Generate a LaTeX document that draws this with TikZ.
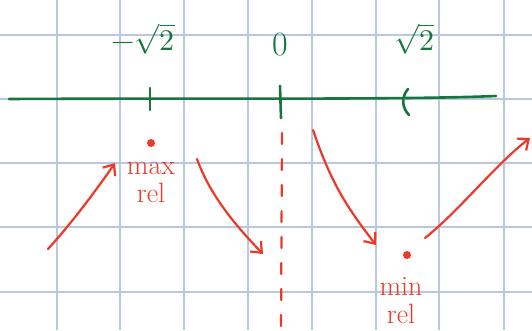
\documentclass[tikz,border=0pt]{standalone}
\usepackage{fontspec}
\usepackage{unicode-math}
\setmathfont{Latin Modern Math}
\usepackage{tikz}
\usetikzlibrary{arrows.meta}
\definecolor{gridc}{RGB}{185,200,222}
\definecolor{pgreen}{RGB}{22,118,62}
\definecolor{pred}{RGB}{236,58,40}
\tikzset{
  gridline/.style={draw=gridc,line width=1.3pt},
  axisline/.style={draw=pgreen,line width=2.6pt,line cap=round},
  redline/.style={draw=pred,line width=2.2pt,line cap=round,line join=round},
  redarrow/.style={redline,-{Straight Barb[length=9pt,width=15pt,line width=2.2pt]}},
  axislabel/.style={text=pgreen,font=\fontsize{30}{34}\selectfont,inner sep=0pt},
  remark/.style={text=pred,font=\fontsize{28}{28}\selectfont,align=center,inner sep=0pt},
  dotnode/.style={circle,fill=pred,inner sep=0pt,minimum size=8pt}
}
\begin{document}
\begin{tikzpicture}[x=1pt,y=-1pt]
\useasboundingbox (0,0) rectangle (532,330);
\fill[white] (0,0) rectangle (532,330);
% grid
\foreach \gx in {57,120,184,248,312,376,439,504} \draw[gridline] (\gx,0) -- (\gx,330);
\foreach \gy in {35,99,163,227,292} \draw[gridline] (0,\gy) -- (532,\gy);
% axis
\coordinate (axL) at (9,99);
\coordinate (axR) at (496,96);
\draw[axisline] (axL) .. controls (200,98) and (400,100) .. (axR);
\coordinate (tmT) at (150,88); \coordinate (tmB) at (150,110);
\draw[axisline] (tmT) -- (tmB);
\coordinate (t0T) at (280,86); \coordinate (t0B) at (281,118);
\draw[axisline] (t0T) -- (t0B);
\coordinate (tpT) at (408,89); \coordinate (tpB) at (409,115);
\draw[axisline] (tpT) .. controls (401,97) and (402,108) .. (tpB);
% labels
\node[axislabel] (lm) at (143,39) {$-\sqrt{2}$};
\node[axislabel] (l0) at (280,45) {\fontsize{34}{38}\selectfont 0};
\node[axislabel] (lp) at (414,39) {$\sqrt{2}$};
% dashed asymptote
\coordinate (dT) at (282,133);
\coordinate (dB) at (281,330);
\draw[redline,dash pattern=on 11pt off 15pt] (dT) -- (dB);
% extrema
\node[dotnode] (maxdot) at (151,143) {};
\node[remark] (maxlab) at (151,182) {max\\rel};
\node[dotnode] (mindot) at (407,255) {};
\node[remark] (minlab) at (401,301) {min\\rel};
% arrows
\coordinate (a1s) at (48,249); \coordinate (a1e) at (115,163);
\draw[redarrow] (a1s) .. controls (70,225) and (95,192) .. (a1e);
\coordinate (a2s) at (197,159); \coordinate (a2e) at (263,254);
\draw[redarrow] (a2s) .. controls (210,195) and (235,225) .. (a2e);
\coordinate (a3s) at (313,130); \coordinate (a3e) at (376,245);
\draw[redarrow] (a3s) .. controls (330,180) and (345,205) .. (a3e);
\coordinate (a4s) at (425,238); \coordinate (a4e) at (530,138);
\draw[redarrow] (a4s) .. controls (460,210) and (495,165) .. (a4e);
\end{tikzpicture}
\end{document}
